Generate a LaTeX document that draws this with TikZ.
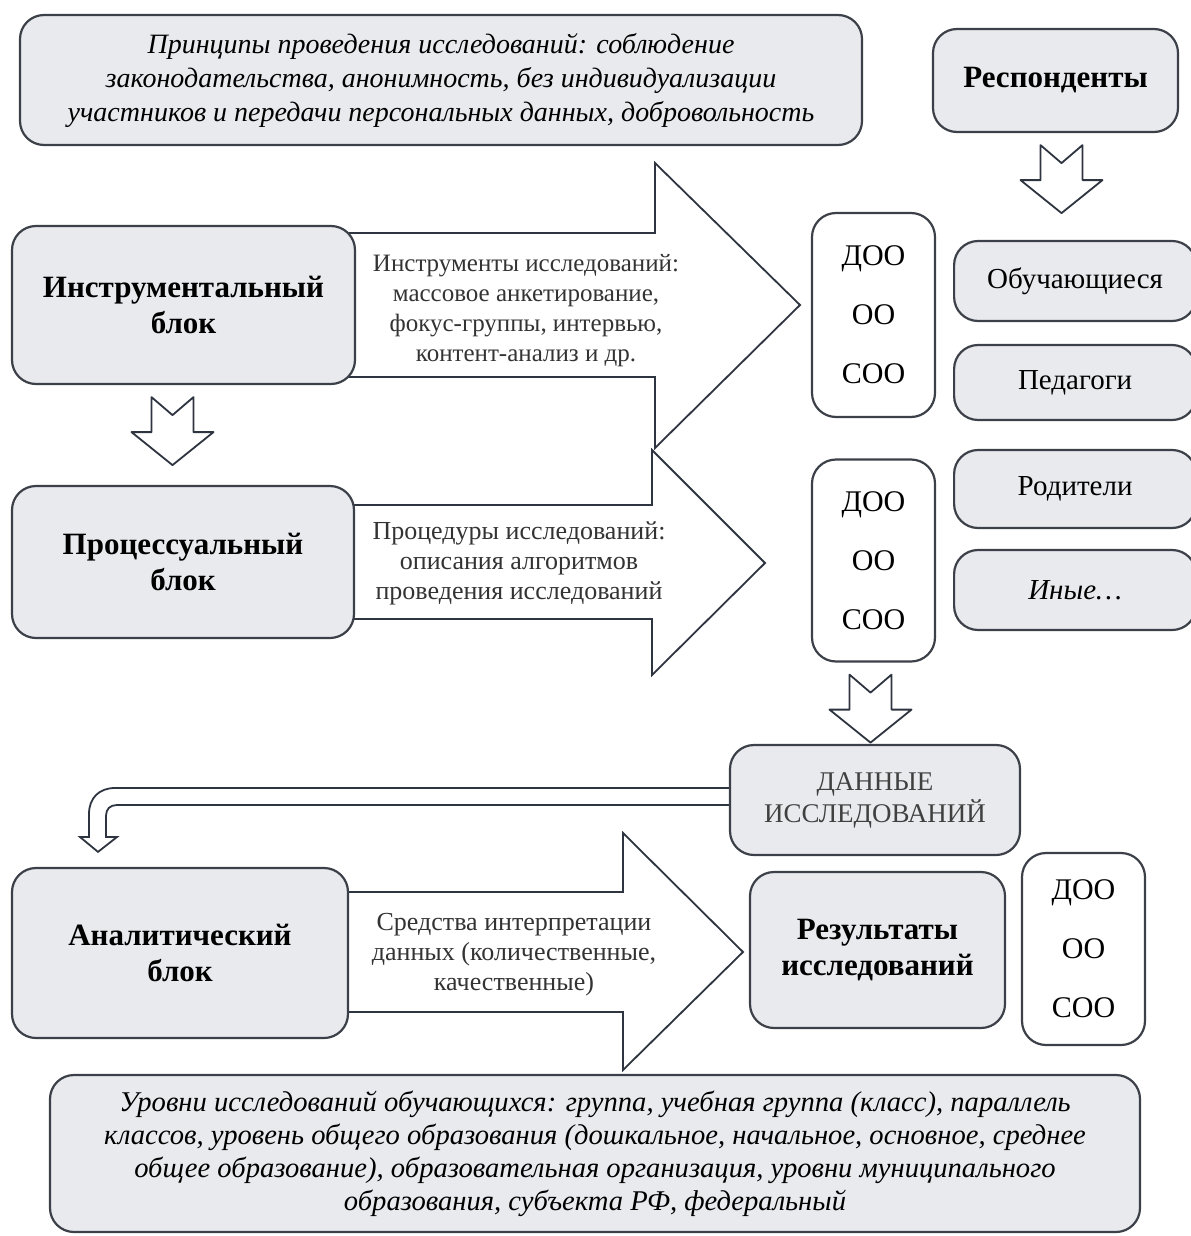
\documentclass[tikz,border=0pt]{standalone}
\usepackage{fontspec}
\setmainfont{Liberation Serif}
\usetikzlibrary{positioning,calc,backgrounds}

\definecolor{boxfill}{HTML}{E9EAEE}
\definecolor{boxline}{HTML}{3C4048}
\definecolor{arrline}{HTML}{2E3440}

\begin{document}
\begin{tikzpicture}[x=0.5pt, y=-0.5pt, line join=round, line cap=round,
	blk/.style={draw=boxline, line width=1.1pt, fill=boxfill, rounded corners=12pt, align=center, inner sep=0pt},
	lvl/.style={draw=boxline, line width=1.1pt, fill=white, rounded corners=12pt, align=center, inner sep=0pt,
		minimum width=61.5pt, font=\fontsize{15}{29.5}\selectfont},
	title/.style={font=\bfseries\fontsize{15.5}{18}\selectfont},
	resp/.style={blk, minimum width=121pt, font=\fontsize{14.5}{17}\selectfont},
	atext/.style={align=center, text=black!80, font=\fontsize{13}{15}\selectfont},
	barrow/.style={draw=arrline, line width=0.9pt, fill=white}]
			\useasboundingbox (0,0) rectangle (1190,1236);
			% top and bottom notes
			\node[blk, minimum width=421pt, minimum height=65pt, font=\itshape\fontsize{14}{17}\selectfont] (princ) at (441,80)
				{Принципы проведения исследований: соблюдение\\законодательства, анонимность, без индивидуализации\\участников и передачи персональных данных, добровольность};
			\node[blk, title, minimum width=122.5pt, minimum height=51.5pt] (respond) at (1055.5,80.5) {Респонденты};
			\node[blk, minimum width=545pt, minimum height=78.5pt, font=\itshape\fontsize{14.3}{16.5}\selectfont] (levels) at (595,1153.5)
				{Уровни исследований обучающихся: группа, учебная группа (класс), параллель\\классов, уровень общего образования (дошкальное, начальное, основное, среднее\\общее образование), образовательная организация, уровни муниципального\\образования, субъекта РФ, федеральный};
			% blocks
			\node[blk, title, minimum width=171.5pt, minimum height=79pt] (instr) at (183.5,305) {Инструментальный\\блок};
			\node[blk, title, minimum width=171pt, minimum height=76pt] (proc) at (183,562) {Процессуальный\\блок};
			\node[blk, title, minimum width=168pt, minimum height=85pt] (anal) at (180,953) {Аналитический\\блок};
			% levels of education
			\node[lvl, minimum height=102pt] (doo1) at (873.5,315) {ДОО\\ОО\\СОО};
			\node[lvl, minimum height=101pt] (doo2) at (873.5,560.5) {ДОО\\ОО\\СОО};
			\node[lvl, minimum height=96pt] (doo3) at (1083.5,949) {ДОО\\ОО\\СОО};
			% respondents
			\node[resp, minimum height=40pt, anchor=west] (obuch) at (953,281) {Обучающиеся};
			\node[resp, minimum height=37.5pt, anchor=west] (ped) at (953,382.5) {Педагоги};
			\node[resp, minimum height=39pt, anchor=west] (rodit) at (953,489) {Родители};
			\node[resp, minimum height=40pt, anchor=west, font=\itshape\fontsize{14.5}{17}\selectfont] (inye) at (953,590) {Иные\dots};
			% data and results
			\node[blk, minimum width=145pt, minimum height=55pt, text=black!75, font=\fontsize{13.5}{16}\selectfont] (dannye) at (875,800) {ДАННЫЕ\\ИССЛЕДОВАНИЙ};
			\node[blk, title, minimum width=127.5pt, minimum height=78pt] (result) at (877.5,950) {Результаты\\исследований};
			% block arrows
			\begin{scope}[on background layer]
				\draw[barrow] ($(instr.east)+(-20,-72)$) -- (655,233) -- (655,163) -- (800,305) -- (655,448) -- (655,377) -- ($(instr.east)+(-20,72)$) -- cycle;
				\draw[barrow] ($(proc.east)+(-20,-57)$) -- (652,505) -- (652,450) -- (765,563) -- (652,675) -- (652,619) -- ($(proc.east)+(-20,57)$) -- cycle;
				\draw[barrow] ($(anal.east)+(-20,-61)$) -- (623,892) -- (623,833) -- (743,952) -- (623,1070) -- (623,1012) -- ($(anal.east)+(-20,59)$) -- cycle;
				\draw[barrow] ($(dannye.west)+(15,-12)$) -- (115,788) .. controls (99,788) and (89,798) .. (89,814) -- (89,837) -- (80,837)
					-- ($(anal.north)+(-82,-15)$) -- (117,837) -- (106,837) -- (106,816) .. controls (106,809) and (110,805) .. (117,805) -- ($(dannye.west)+(15,5)$) -- cycle;
			\end{scope}
			\node[atext, font=\fontsize{12.5}{15}\selectfont] (instrtxt) at (526,311) {Инструменты исследований:\\массовое анкетирование,\\фокус-группы, интервью,\\контент-анализ и др.};
			\node[atext] (proctxt) at (519,563) {Процедуры исследований:\\описания алгоритмов\\проведения исследований};
			\node[atext] (analtxt) at (514,955) {Средства интерпретации\\данных (количественные,\\качественные)};
			% hollow down arrows
			\foreach \src/\dx in {respond/6, instr/-11, doo2/-3}{
				\coordinate (t) at ($(\src.south)+(\dx,12)$);
				\draw[barrow] ($(t)+(-21,0)$) -- ($(t)+(0,18)$) -- ($(t)+(21,0)$) -- ($(t)+(21,35)$) -- ($(t)+(41,35)$)
					-- ($(t)+(0,68)$) -- ($(t)+(-41,35)$) -- ($(t)+(-21,35)$) -- cycle;
			}
		\end{tikzpicture}
\end{document}
